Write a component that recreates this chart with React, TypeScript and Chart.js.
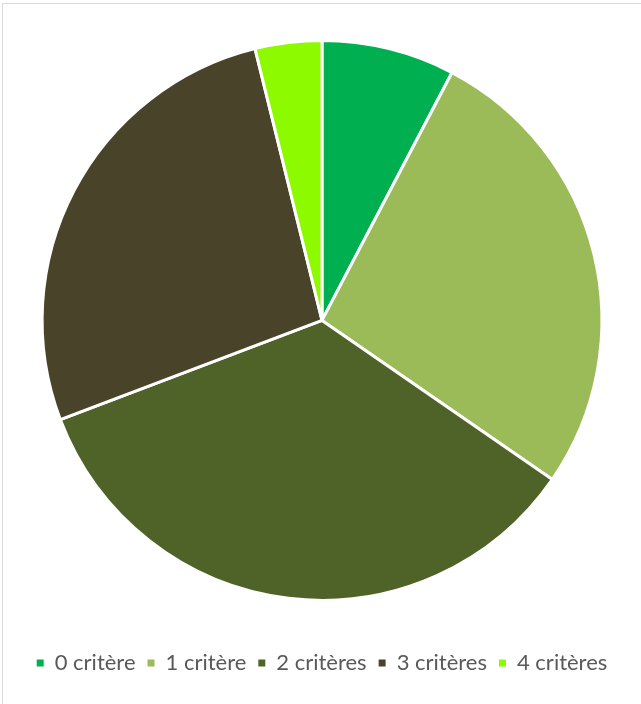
import React, { useEffect, useRef } from "react";
import { Chart, registerables } from "chart.js";

Chart.register(...registerables);

const categories = ["0 critère", "1 critère", "2 critères", "3 critères", "4 critères"];
const values = [2, 7, 9, 7, 1];
const colors = ["#00B050", "#9BBB59", "#4F6228", "#494429", "#8EFA00"];

export default function App() {
  const ref = useRef<HTMLCanvasElement | null>(null);
  useEffect(() => {
    if (!ref.current) return;
    const chart = new Chart(ref.current, {
      type: "pie",
      data: {
        labels: categories,
        datasets: [
          {
            data: values,
            backgroundColor: colors,
            borderColor: "#FFFFFF",
            borderWidth: 3,
          },
        ],
      },
      options: {
        responsive: false,
        animation: false,
        layout: { padding: { top: 39, left: 3, right: 0, bottom: 20 } },
        plugins: {
          tooltip: { enabled: false },
          legend: {
            position: "bottom",
            title: {
              display: true,
              text: " ",
              font: { size: 1 },
              padding: { top: 0, bottom: 37 },
            },
            labels: {
              boxWidth: 7,
              boxHeight: 7,
              padding: 12,
              color: "#595959",
              font: { family: "Lato, sans-serif", size: 22 },
              generateLabels: (c: any) => {
                const items = Chart.overrides.pie.plugins.legend.labels.generateLabels(c);
                return items.map((it: any) => ({ ...it, lineWidth: 0, strokeStyle: "rgba(0,0,0,0)" }));
              },
            },
          },
        },
      },
    });
    return () => chart.destroy();
  }, []);
  return (
    <div style={{ position: "fixed", left: 0, top: 0, width: 641, height: 704, background: "#fff" }}>
      <div
        style={{
          position: "absolute",
          left: 2,
          top: 3,
          right: 0,
          bottom: 0,
          borderTop: "1.5px solid #D9D9D9",
          borderLeft: "1.5px solid #D9D9D9",
        }}
      />
      <canvas ref={ref} width={641} height={704} style={{ position: "absolute", left: 0, top: 0 }} />
    </div>
  );
}
